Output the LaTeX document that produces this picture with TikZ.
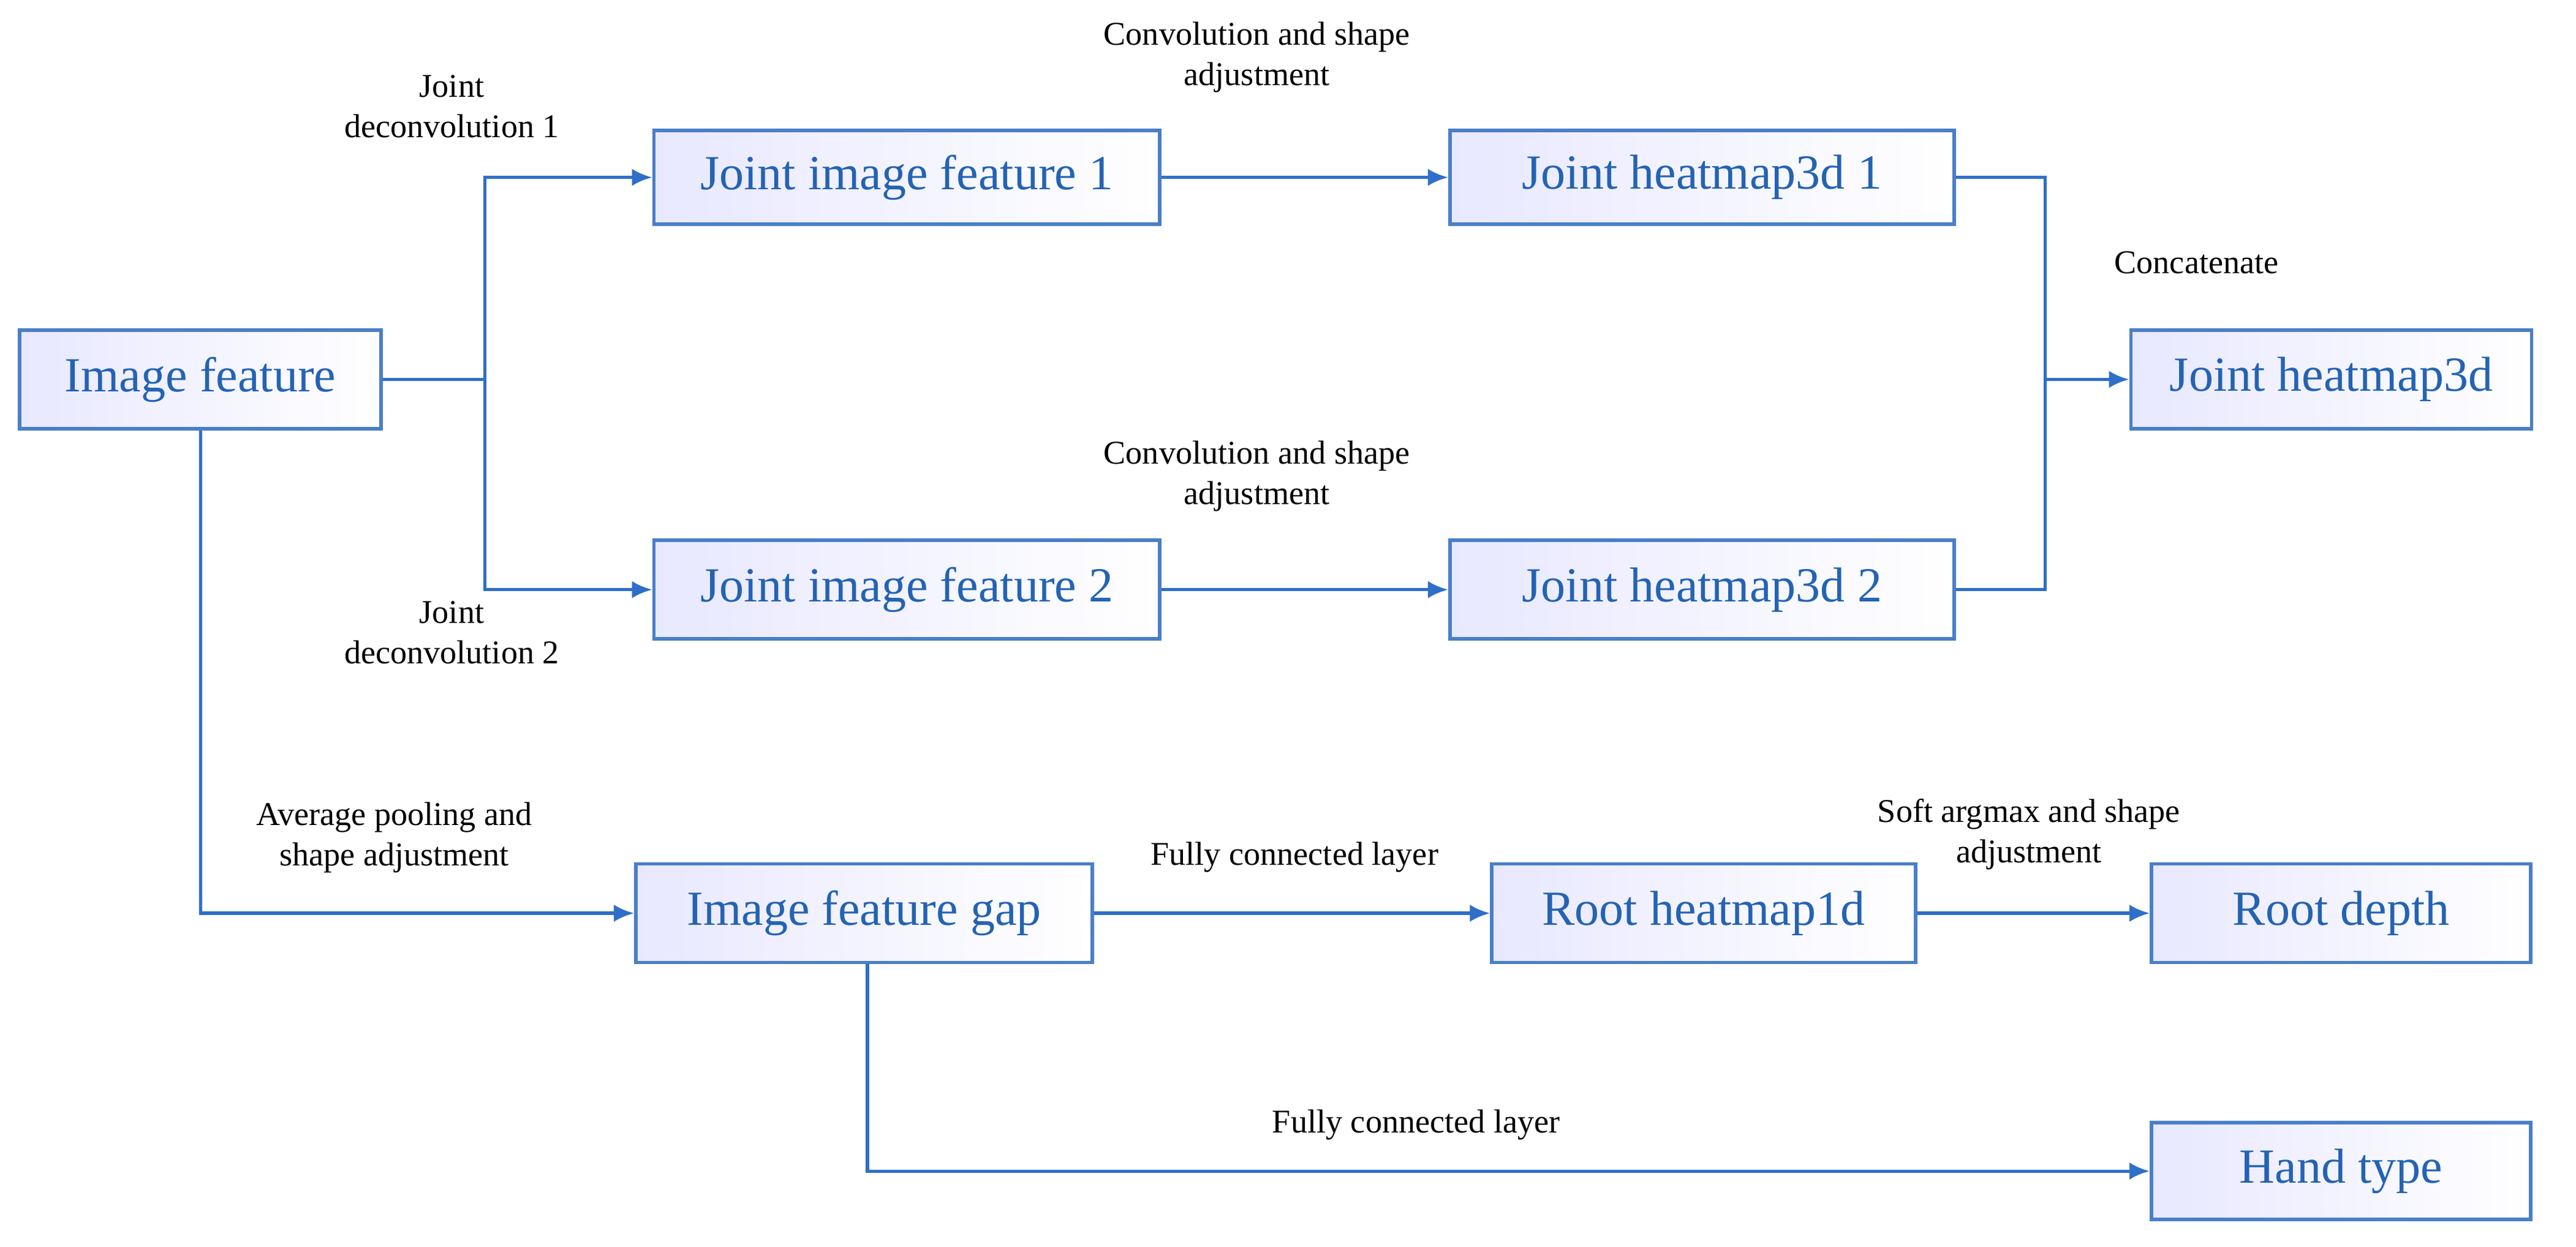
\documentclass[tikz,border=0pt]{standalone}
\usepackage{fontspec}
\setmainfont{Liberation Serif}
\usetikzlibrary{arrows.meta,positioning}
\definecolor{boxline}{HTML}{4A7FC8}
\definecolor{boxtext}{HTML}{2463B4}
\definecolor{arrowblue}{HTML}{2E6FC9}
\tikzset{block/.style={rectangle, draw=boxline, line width=1.2pt, left color=blue!9, right color=white,
    text=boxtext, font=\fontsize{17}{20}\selectfont, minimum height=1.2cm, inner sep=2pt},
  line/.style={draw=arrowblue, line width=1.1pt, -{Latex[length=7pt,width=6pt]}},
  plain/.style={draw=arrowblue, line width=1.1pt},
  lbl/.style={align=center, font=\fontsize{11.5}{14}\selectfont}}
\begin{document}
\begin{tikzpicture}[x=0.02cm, y=-0.02cm]
    \useasboundingbox (0,0) rectangle (1568,759);
    % Blocks
    \node [block, minimum width=4.4cm] (img) at (122,231) {Image feature};
    \node [block, minimum width=6.16cm, minimum height=1.14cm] (jif1) at (552,108) {Joint image feature 1};
    \node [block, minimum width=6.14cm, minimum height=1.14cm] (jh1) at (1036,108) {Joint heatmap3d 1};
    \node [block, minimum width=4.88cm] (jh) at (1419,231) {Joint heatmap3d};
    \node [block, minimum width=6.16cm] (jif2) at (552,359) {Joint image feature 2};
    \node [block, minimum width=6.14cm] (jh2) at (1036,359) {Joint heatmap3d 2};
    \node [block, minimum width=5.56cm] (gap) at (526,556) {Image feature gap};
    \node [block, minimum width=5.16cm] (rh) at (1037,556) {Root heatmap1d};
    \node [block, minimum width=4.62cm] (rd) at (1425,556) {Root depth};
    \node [block, minimum width=4.62cm, minimum height=1.18cm] (ht) at (1425,713) {Hand type};
    % Branch points
    \coordinate (split) at (295,231);
    \coordinate (merge) at (1245,231);
    % Lines
    \path [plain] (img) -- (split);
    \path [line] (split) |- (jif1);
    \path [line] (split) |- (jif2);
    \path [line] (jif1) -- (jh1);
    \path [line] (jif2) -- (jh2);
    \path [plain] (jh1.east) -| (merge);
    \path [plain] (jh2.east) -| (merge);
    \path [line] (merge) -- (jh);
    \path [line] (img.south) |- (gap);
    \path [line] (gap) -- (rh);
    \path [line] (rh) -- (rd);
    \path [line] (gap.south -| 528,0) |- (ht);
    % Labels
    \node [lbl] (l1) at (275,65) {Joint\\deconvolution 1};
    \node [lbl] (l2) at (765,35) {Convolution and shape\\adjustment};
    \node [lbl] (l3) at (1337,160) {Concatenate};
    \node [lbl] (l4) at (765,290) {Convolution and shape\\adjustment};
    \node [lbl] (l5) at (275,385) {Joint\\deconvolution 2};
    \node [lbl] (l6) at (240,510) {Average pooling and\\shape adjustment};
    \node [lbl] (l7) at (788,522) {Fully connected layer};
    \node [lbl] (l8) at (1235,508) {Soft argmax and shape\\adjustment};
    \node [lbl] (l9) at (862,685) {Fully connected layer};
\end{tikzpicture}
\end{document}
